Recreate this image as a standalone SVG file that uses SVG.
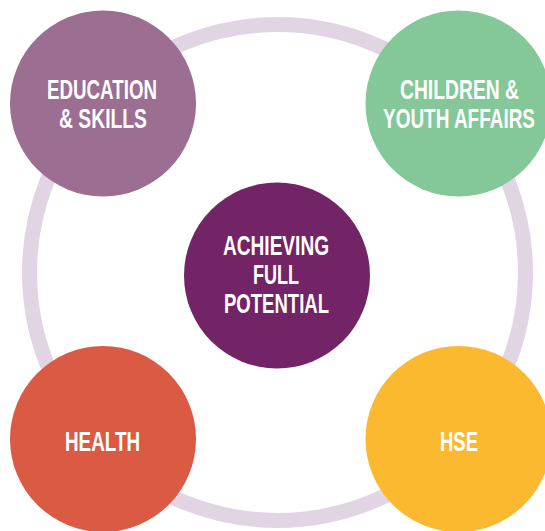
<svg xmlns="http://www.w3.org/2000/svg" width="545" height="531" viewBox="0 0 545 531">
<style>
.lbl{font-family:"Liberation Sans","DejaVu Sans",Arial,sans-serif;font-weight:bold;font-size:28.5px;fill:#ffffff}
</style>
<rect width="545" height="531" fill="#ffffff"/>
<g id="connectors">
<circle cx="277.5" cy="272.5" r="248" fill="none" stroke="#e2d5e3" stroke-width="15"/>
</g>
<g id="node-education">
<circle cx="103" cy="103.5" r="93" fill="#9c6e92"/>
<text class="lbl" x="47" y="99" textLength="110" lengthAdjust="spacingAndGlyphs">EDUCATION</text>
<text class="lbl" x="59" y="128" textLength="88" lengthAdjust="spacingAndGlyphs">&amp; SKILLS</text>
</g>
<g id="node-children">
<circle cx="458.5" cy="103.5" r="93" fill="#84c798"/>
<text class="lbl" x="400" y="99" textLength="119" lengthAdjust="spacingAndGlyphs">CHILDREN &amp;</text>
<text class="lbl" x="383" y="128" textLength="152" lengthAdjust="spacingAndGlyphs">YOUTH AFFAIRS</text>
</g>
<g id="node-achieving">
<circle cx="277" cy="275.5" r="93" fill="#722466"/>
<text class="lbl" x="223" y="255" textLength="106" lengthAdjust="spacingAndGlyphs">ACHIEVING</text>
<text class="lbl" x="253" y="284" textLength="46" lengthAdjust="spacingAndGlyphs">FULL</text>
<text class="lbl" x="224" y="313" textLength="105" lengthAdjust="spacingAndGlyphs">POTENTIAL</text>
</g>
<g id="node-health">
<circle cx="103" cy="439" r="93" fill="#db5a43"/>
<text class="lbl" x="65" y="451" textLength="75" lengthAdjust="spacingAndGlyphs">HEALTH</text>
</g>
<g id="node-hse">
<circle cx="458.5" cy="439" r="93" fill="#fbb930"/>
<text class="lbl" x="440" y="451" textLength="38" lengthAdjust="spacingAndGlyphs">HSE</text>
</g>
</svg>
